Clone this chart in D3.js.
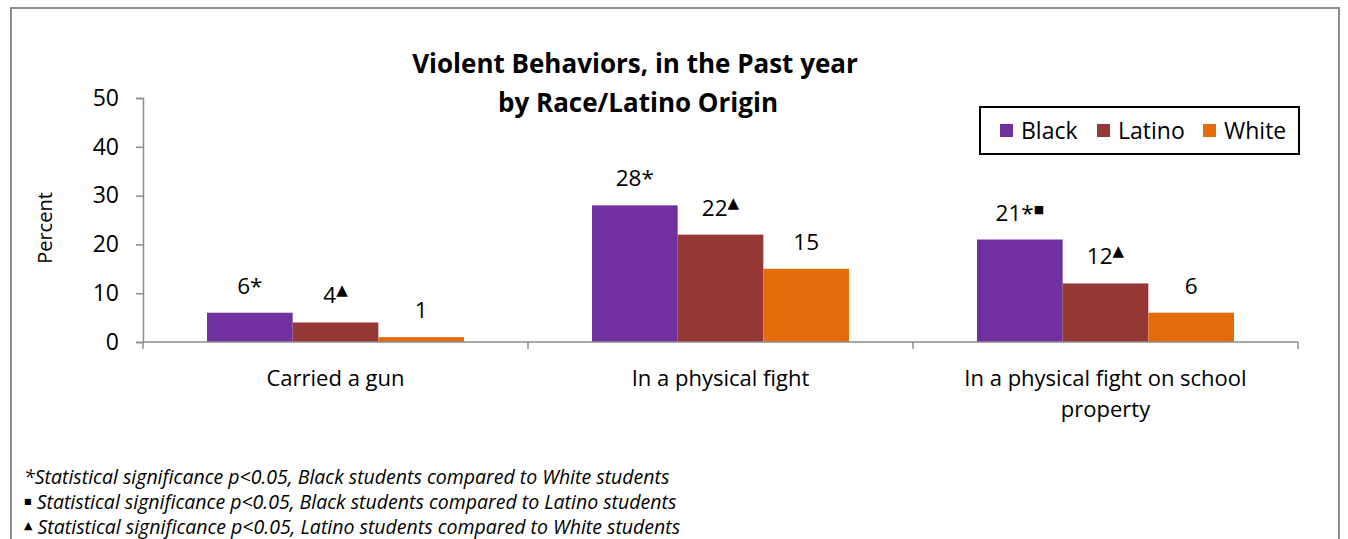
<!DOCTYPE html>
<html>
<head>
<meta charset="utf-8">
<script src="https://cdn.jsdelivr.net/npm/d3@7"></script>
<style>
  html, body { margin: 0; padding: 0; background: #fff; }
  svg { display: block; font-family: "Open Sans", "Noto Sans", sans-serif; }
</style>
</head>
<body>
<svg id="chart" width="1348" height="539"></svg>
<script>
// Percent of students reporting each behavior in the past year
const categories = [["Carried a gun"], ["In a physical fight"], ["In a physical fight on school", "property"]];
const seriesNames = ["Black", "Latino", "White"];
const blackValues = [6, 28, 21];
const latinoValues = [4, 22, 12];
const whiteValues = [1, 15, 6];
// significance markers appended to each value label
const blackMarks = ["*", "*", "*■"];
const latinoMarks = ["▲", "▲", "▲"];
const whiteMarks = ["", "", ""];
const yTicks = [0, 10, 20, 30, 40, 50];
const colors = ["#7030A0", "#953735", "#E46C0A"];
const footnotes = [
  "*Statistical significance p<0.05, Black students compared to White students",
  "■ Statistical significance p<0.05, Black students compared to Latino students",
  "▲ Statistical significance p<0.05, Latino students compared to White students"
];

const values = [blackValues, latinoValues, whiteValues];
const marks = [blackMarks, latinoMarks, whiteMarks];

const svg = d3.select("#chart");

// outer frame
svg.append("rect")
  .attr("x", 11).attr("y", 8).attr("width", 1328).attr("height", 560)
  .attr("fill", "none").attr("stroke", "#8c8c8c").attr("stroke-width", 2);

const plot = { left: 143, right: 1298, top: 98, bottom: 342 };

const y = d3.scaleLinear().domain([0, 50]).range([plot.bottom, plot.top]);
const x0 = d3.scaleBand().domain(d3.range(categories.length)).range([plot.left, plot.right]);
const x1 = d3.scaleBand().domain(d3.range(seriesNames.length))
  .range([0, x0.bandwidth()]).paddingOuter(0.747).paddingInner(0);

// title
const title = svg.append("text")
  .attr("text-anchor", "middle").attr("font-weight", "bold").attr("font-size", 26).attr("fill", "#000");
title.append("tspan").attr("x", 635).attr("y", 73).text("Violent Behaviors, in the Past year");
title.append("tspan").attr("x", 638).attr("y", 112).text("by Race/Latino Origin");

// y axis
const yAxis = svg.append("g")
  .attr("transform", `translate(${plot.left},0)`)
  .call(d3.axisLeft(y).tickValues(yTicks).tickSize(7).tickPadding(17));
yAxis.select(".domain").attr("stroke", "#8c8c8c").attr("stroke-width", 1.5);
yAxis.selectAll(".tick line").attr("stroke", "#8c8c8c").attr("stroke-width", 1.5);
yAxis.selectAll(".tick text").attr("font-size", 23).attr("fill", "#000").attr("font-family", "'Open Sans', sans-serif");

// y axis title
svg.append("text")
  .attr("transform", `translate(52,228) rotate(-90)`)
  .attr("text-anchor", "middle").attr("font-size", 20).attr("fill", "#000")
  .text("Percent");

// bars
const groups = svg.append("g").selectAll("g")
  .data(categories)
  .join("g")
  .attr("transform", (d, i) => `translate(${x0(i)},0)`);

groups.selectAll("rect")
  .data((d, i) => seriesNames.map((s, j) => ({ j, v: values[j][i], m: marks[j][i] })))
  .join("rect")
  .attr("x", d => x1(d.j))
  .attr("y", d => y(d.v))
  .attr("width", x1.bandwidth())
  .attr("height", d => y(0) - y(d.v))
  .attr("fill", d => colors[d.j]);

// value labels
const labels = groups.selectAll("text.value")
  .data((d, i) => seriesNames.map((s, j) => ({ j, v: values[j][i], m: marks[j][i] })))
  .join("text")
  .attr("class", "value")
  .attr("x", d => x1(d.j) + x1.bandwidth() / 2)
  .attr("y", d => y(d.v) - 19)
  .attr("text-anchor", "middle")
  .attr("font-size", 22.5)
  .attr("fill", "#000");
labels.append("tspan").text(d => d.v);
labels.each(function (d) {
  const t = d3.select(this);
  for (const ch of d.m) {
    if (ch === "*") {
      t.append("tspan").text("*");
    } else {
      t.append("tspan").attr("font-size", ch === "■" ? 11 : 15).attr("dy", -8)
        .attr("font-family", "DejaVu Sans, sans-serif").text(ch);
      t.append("tspan").attr("dy", 8).attr("font-size", 1).text(" ");
    }
  }
});

// x axis
const xAxisG = svg.append("g");
xAxisG.append("line")
  .attr("x1", plot.left).attr("x2", plot.right)
  .attr("y1", y(0)).attr("y2", y(0))
  .attr("stroke", "#8c8c8c").attr("stroke-width", 1.5);
xAxisG.selectAll("line.tick")
  .data(d3.range(categories.length + 1))
  .join("line")
  .attr("class", "tick")
  .attr("x1", i => plot.left + i * x0.step()).attr("x2", i => plot.left + i * x0.step())
  .attr("y1", y(0)).attr("y2", y(0) + 7)
  .attr("stroke", "#8c8c8c").attr("stroke-width", 1.5);

// category labels
const catLabels = svg.append("g").selectAll("text")
  .data(categories)
  .join("text")
  .attr("text-anchor", "middle")
  .attr("font-size", 22)
  .attr("fill", "#000");
catLabels.selectAll("tspan")
  .data((d, i) => d.map(line => ({ line, i })))
  .join("tspan")
  .attr("x", d => x0(d.i) + x0.bandwidth() / 2)
  .attr("y", (d, k) => 386 + k * 31)
  .text(d => d.line);

// legend
const legend = svg.append("g");
legend.append("rect")
  .attr("x", 980).attr("y", 107).attr("width", 319).attr("height", 47)
  .attr("fill", "#fff").attr("stroke", "#000").attr("stroke-width", 2);
const legendX = [1000, 1097, 1203];
seriesNames.forEach((s, j) => {
  legend.append("rect")
    .attr("x", legendX[j]).attr("y", 124).attr("width", 13).attr("height", 13)
    .attr("fill", colors[j]);
  legend.append("text")
    .attr("x", legendX[j] + 21).attr("y", 139)
    .attr("font-size", 23).attr("fill", "#000")
    .text(s);
});

// footnotes
svg.append("g").selectAll("text")
  .data(footnotes)
  .join("text")
  .attr("x", 24)
  .attr("y", (d, i) => 484 + i * 25)
  .attr("font-size", 19.5)
  .attr("font-style", "italic")
  .attr("fill", "#000")
  .each(function (d) {
    const t = d3.select(this);
    if (d.startsWith("■") || d.startsWith("▲")) {
      t.append("tspan").attr("font-style", "normal").attr("font-size", d.startsWith("■") ? 8 : 11)
        .attr("dy", -5).attr("font-family", "DejaVu Sans, sans-serif").text(d[0]);
      t.append("tspan").attr("dy", 5).text(d.slice(1));
    } else {
      t.text(d);
    }
  });
</script>
</body>
</html>
